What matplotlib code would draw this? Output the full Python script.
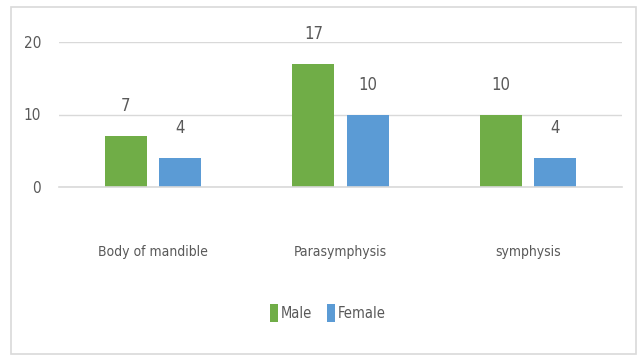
import matplotlib
matplotlib.use('Agg')
import matplotlib.pyplot as plt
from matplotlib.patches import Rectangle
import numpy as np

# Fracture site counts by sex
categories = ['Body of mandible', 'Parasymphysis', 'symphysis']
male = [7, 17, 10]
female = [4, 10, 4]
yticks = [0, 10, 20]

green = '#70AD47'
blue = '#5B9BD5'
text_color = '#595959'

plt.rcParams['font.family'] = ['DejaVu Sans']
plt.rcParams['font.stretch'] = 'condensed'

fig = plt.figure(figsize=(6.38, 3.55), dpi=100)
fig.patches.append(Rectangle((11 / 638, 1 / 355), 625 / 638, 347 / 355,
                             transform=fig.transFigure, fill=False,
                             edgecolor='#D9D9D9', linewidth=1.2))

ax = fig.add_axes([59 / 638, 1 - 187 / 355, 563 / 638, 145 / 355])

x = np.arange(len(categories))
width = 0.224
offset = 0.144
b1 = ax.bar(x - offset, male, width, color=green, label='Male', zorder=3)
b2 = ax.bar(x + offset, female, width, color=blue, label='Female', zorder=3)

# value labels above each bar
for bars in (b1, b2):
    for rect in bars:
        h = rect.get_height()
        ax.annotate('{0}'.format(int(h)), (rect.get_x() + rect.get_width() / 2, h),
                    xytext=(0, 15), textcoords='offset points', ha='center', va='bottom',
                    fontsize=12, color=text_color, annotation_clip=False)

ax.set_xlim(-0.5, len(categories) - 0.5)
ax.set_ylim(0, 20)
ax.set_yticks(yticks)
ax.yaxis.grid(True, color='#D9D9D9', linewidth=1, zorder=0)
ax.set_xticks(x)
ax.set_xticklabels(categories, fontsize=10)
ax.tick_params(axis='both', length=0, colors=text_color)
ax.tick_params(axis='y', pad=13, labelsize=11)
ax.tick_params(axis='x', pad=42)
for s in ax.spines.values():
    s.set_visible(False)
ax.axhline(0, color='#D9D9D9', linewidth=1.2, zorder=4, clip_on=False)

fig.legend(handles=[b1, b2], loc='center', bbox_to_anchor=(328 / 638, 1 - 313 / 355),
           ncol=2, frameon=False, fontsize=10.5, labelcolor=text_color,
           handlelength=0.55, handleheight=1.5, handletextpad=0.2, columnspacing=1.0)

fig.savefig('out.png', dpi=100)
